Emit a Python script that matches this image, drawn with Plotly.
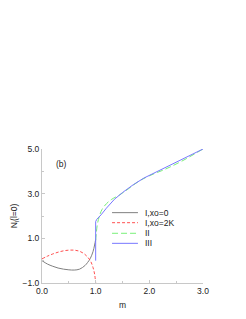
import plotly.graph_objects as go

m_I0 = [0, 0.1, 0.2, 0.3, 0.4, 0.5, 0.6, 0.7, 0.8, 0.85, 0.9, 0.95, 0.98, 1.0]
n_I0 = [0, -0.15, -0.25, -0.33, -0.38, -0.41, -0.42, -0.38, -0.22, -0.08, 0.1, 0.4, 0.7, 0.95]

m_I2K = [0, 0.1, 0.2, 0.3, 0.4, 0.5, 0.6, 0.7, 0.8, 0.9, 0.95, 0.98, 1.0]
n_I2K = [0.08, 0.2, 0.3, 0.38, 0.44, 0.47, 0.47, 0.42, 0.28, 0.0, -0.3, -0.6, -1.0]

m_II = [1.0, 1.03, 1.07, 1.12, 1.2, 1.3, 1.45, 1.6, 1.8, 2.0, 2.3, 2.6, 3.0]
n_II = [0.9, 1.6, 2.0, 2.3, 2.55, 2.75, 2.95, 3.2, 3.55, 3.8, 4.1, 4.45, 5.0]

m_III = [1.0, 1.0, 1.02, 1.1, 1.2, 1.35, 1.5, 1.7, 1.9, 2.0, 2.5, 3.0]
n_III = [0.0, 1.75, 1.85, 2.05, 2.35, 2.75, 3.05, 3.4, 3.7, 3.82, 4.4, 5.0]

names = ["I,xo=0", "I,xo=2K", "II", "III"]
colors = ["#808080", "#ff5050", "#78f078", "#7878ff"]
dashes = ["solid", "3px,2px", "6px,3px", "solid"]
shapes_line = ["spline", "spline", "spline", "linear"]

fig = go.Figure()
for xs, ys, nm, c, d, s in zip([m_I0, m_I2K, m_II, m_III], [n_I0, n_I2K, n_II, n_III],
                               names, colors, dashes, shapes_line):
    fig.add_trace(go.Scatter(x=xs, y=ys, mode="lines", name=nm, showlegend=False,
                             line=dict(color=c, width=1, dash=d, shape=s)))

# compact legend drawn in paper coordinates
leg_y = [0.525, 0.45, 0.371, 0.296]
for nm, c, d, yy in zip(names, colors, dashes, leg_y):
    fig.add_shape(type="line", xref="paper", yref="paper", x0=0.435, x1=0.596,
                  y0=yy, y1=yy, line=dict(color=c, width=1, dash=d))
    fig.add_annotation(xref="paper", yref="paper", x=0.627, y=yy, text=nm,
                       showarrow=False, xanchor="left", yanchor="middle",
                       font=dict(size=8.5, color="#222"))

fig.add_annotation(x=0.37, y=4.33, text="(b)", showarrow=False,
                   font=dict(size=8.5, color="#222"))

axis_common = dict(showline=True, linecolor="#c8c8c8", linewidth=1, showgrid=False,
                   zeroline=False, ticks="inside", ticklen=3, tickcolor="#c8c8c8",
                   tickfont=dict(size=8.5, color="#222"), mirror=False, automargin=False)

fig.update_layout(
    width=246, height=319,
    margin=dict(l=42, r=43, t=149, b=36),
    paper_bgcolor="white", plot_bgcolor="white",
    font=dict(family="Liberation Sans, Arial, sans-serif", size=8, color="#222"),
    showlegend=False,
    xaxis=dict(range=[0, 3.0], tick0=0, dtick=1, tickformat=".1f",
               minor=dict(dtick=0.5, ticks="inside", ticklen=2, tickcolor="#c8c8c8"),
               title=dict(text="m", font=dict(size=8.5), standoff=6), **axis_common),
    yaxis=dict(range=[-1, 5], tick0=-1, dtick=2, tickformat=".1f",
               minor=dict(dtick=1, ticks="inside", ticklen=2, tickcolor="#c8c8c8"),
               title=dict(text="N<sub>l</sub>(l=0)", font=dict(size=8.5), standoff=3),
               **axis_common),
)

fig.write_html("out.html", config={"displayModeBar": False},
               post_script="document.body.style.margin='0';")
